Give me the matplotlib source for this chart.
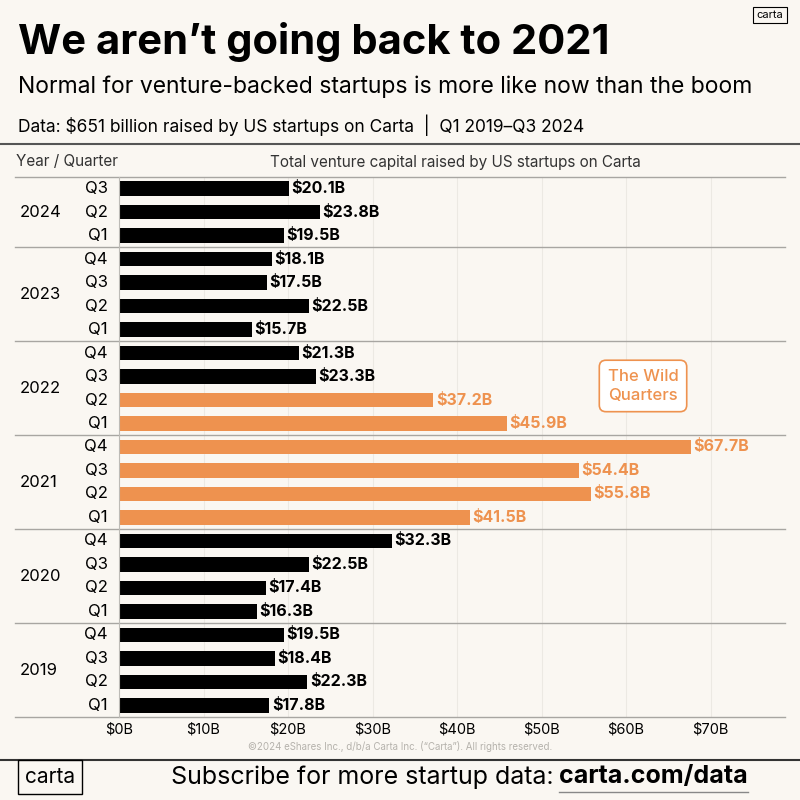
import matplotlib.pyplot as plt

plt.rcParams['font.family'] = ['Inter', 'DejaVu Sans']

years = ["2024", "2023", "2022", "2021", "2020", "2019"]
quarters = {
    "2024": ["Q3", "Q2", "Q1"],
    "2023": ["Q4", "Q3", "Q2", "Q1"],
    "2022": ["Q4", "Q3", "Q2", "Q1"],
    "2021": ["Q4", "Q3", "Q2", "Q1"],
    "2020": ["Q4", "Q3", "Q2", "Q1"],
    "2019": ["Q4", "Q3", "Q2", "Q1"],
}
values = [20.1, 23.8, 19.5,
          18.1, 17.5, 22.5, 15.7,
          21.3, 23.3, 37.2, 45.9,
          67.7, 54.4, 55.8, 41.5,
          32.3, 22.5, 17.4, 16.3,
          19.5, 18.4, 22.3, 17.8]
wild = [False, False, False,
        False, False, False, False,
        False, False, True, True,
        True, True, True, True,
        False, False, False, False,
        False, False, False, False]
xticks = [0, 10, 20, 30, 40, 50, 60, 70]

BG = "#FAF7F2"
ORANGE = "#EE924F"

fig = plt.figure(figsize=(8, 8), dpi=100, facecolor=BG)
ax = fig.add_axes([119/800, 1-717/800, (785-119)/800, (717-177)/800])
ax.set_facecolor(BG)

n = len(values)
ypos = list(range(n))
colors = [ORANGE if w else "black" for w in wild]
ax.barh(ypos, values, height=0.62, color=colors)
for y, v, w in zip(ypos, values, wild):
    ax.text(v + 0.3, y, f"${v}B", va="center", ha="left", fontsize=11.5,
            fontweight="bold", color=ORANGE if w else "black")
ax.set_ylim(n - 0.5, -0.5)
ax.set_xlim(0, 78.8)
for x in xticks[1:]:
    ax.axvline(x, color="#ECE9E3", lw=0.8, zorder=0)
ax.set_xticks(xticks)
ax.set_xticklabels([f"${x}B" for x in xticks], fontsize=10.5)
ax.tick_params(length=0, pad=4)
ax.set_yticks([])
for s in ["top", "right", "bottom"]:
    ax.spines[s].set_visible(False)
ax.spines["left"].set_color("#BDBBB6")

# year / quarter labels and separators
i = 0
for yr in years:
    qs = quarters[yr]
    for q in qs:
        ax.text(-1.3, i, q, ha="right", va="center", fontsize=12)
        i += 1
    mid = i - len(qs) / 2 - 0.5
    ax.text(-11.8, mid, yr, ha="left", va="center", fontsize=12)
    ax.plot([-12.3, 78.8], [i - 0.5, i - 0.5], color="#A8A6A2", lw=1, clip_on=False)
ax.plot([-12.3, 78.8], [-0.5, -0.5], color="#A8A6A2", lw=1, clip_on=False)

# annotation box
ax.text(62, 8.4, "The Wild\nQuarters", ha="center", va="center", fontsize=12,
        color=ORANGE, fontweight="medium", linespacing=1.4,
        bbox=dict(boxstyle="round,pad=0.5,rounding_size=0.4", fc="white", ec=ORANGE, lw=1.2))

# header
fig.text(18/800, 1-42/800, "We aren\u2019t going back to 2021", fontsize=30, fontweight="bold", va="center")
fig.text(18/800, 1-87/800, "Normal for venture-backed startups is more like now than the boom",
         fontsize=16.5, va="center")
fig.text(18/800, 1-125/800, "Data: $651 billion raised by US startups on Carta  |  Q1 2019\u2013Q3 2024",
         fontsize=12.5, va="center")
fig.text(16/800, 1-162/800, "Year / Quarter", fontsize=11, va="center", color="#333333")
fig.text(455/800, 1-162/800, "Total venture capital raised by US startups on Carta", fontsize=11,
         va="center", ha="center", color="#333333")
fig.text(770/800, 1-15/800, "carta", fontsize=8, ha="center", va="center",
         bbox=dict(boxstyle="square,pad=0.3", fc=BG, ec="black", lw=0.8))
fig.add_artist(plt.Line2D([0, 1], [1-144/800, 1-144/800], color="#555555", lw=1.5))

# footer
fig.text(400/800, 1-746/800, "\u00a92024 eShares Inc., d/b/a Carta Inc. (\u201cCarta\u201d). All rights reserved.",
         fontsize=7, ha="center", va="center", color="#B5B2AC")
fig.add_artist(plt.Line2D([0, 1], [1-760/800, 1-760/800], color="#333333", lw=1.5))
fig.text(50/800, 1-777/800, "carta", fontsize=15, ha="center", va="center",
         bbox=dict(boxstyle="square,pad=0.35", fc=BG, ec="black", lw=1))
bold = fig.text(748/800, 1-777/800, "carta.com/data", fontsize=18, va="center", ha="right",
                fontweight="bold")
r = fig.canvas.get_renderer()
bb = bold.get_window_extent(r)
fig.text((bb.x0 - 6) / 800, 1-777/800, "Subscribe for more startup data:", fontsize=18,
         va="center", ha="right")
fig.add_artist(plt.Line2D([bb.x0 / 800, bb.x1 / 800], [1-792/800, 1-792/800], color="#888888", lw=1))

fig.savefig("out.png", dpi=100, facecolor=BG)
